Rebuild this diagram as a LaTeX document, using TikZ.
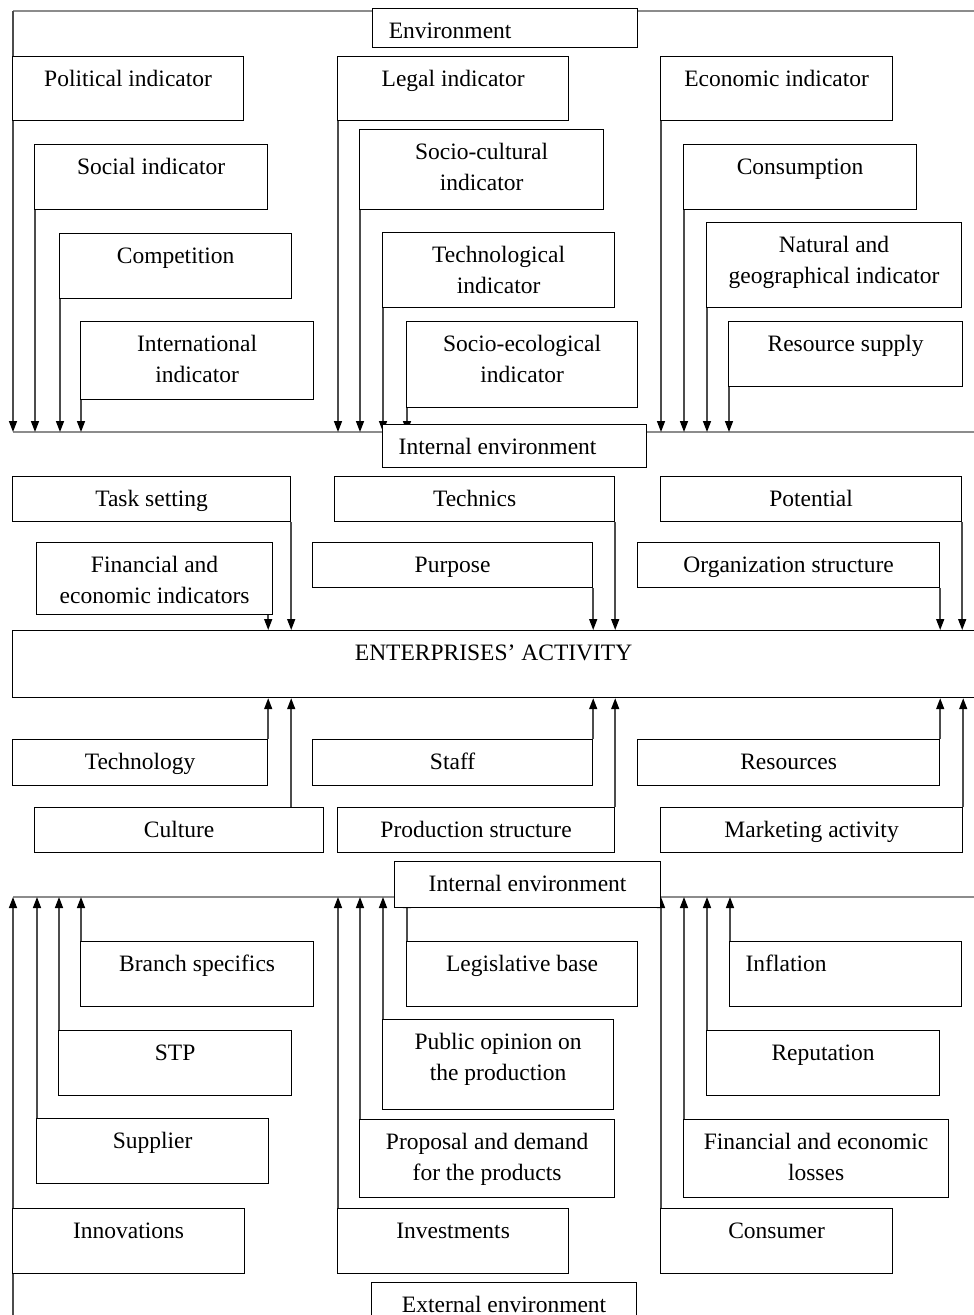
\documentclass[tikz,border=0pt]{standalone}
\usepackage{fontspec}
\setmainfont{Liberation Serif}
\usetikzlibrary{arrows.meta,backgrounds}

\begin{document}
\begin{tikzpicture}[x=1pt,y=-1pt,
    box/.style={draw=black,line width=1.2pt,fill=white,anchor=north west,inner sep=0pt,
      align=center,font=\fontsize{23.5}{31}\selectfont,text height=29.5pt},
    twoline/.style={text height=60.5pt},
    arr/.style={draw=black!70,line width=1.5pt,-{Triangle[length=11pt,width=8pt,color=black]}},
    frame/.style={draw=black!45,line width=2pt}]
            \useasboundingbox (0,0) rectangle (974,1315);

            % Environment
            \node[box,minimum width=265pt,text depth=9.5pt] (env) at (372,8) {Environment\hspace*{110pt}};

            % First column of indicators
            \node[box,minimum width=231pt,text depth=34.5pt] (pol) at (12,56) {Political indicator};
            \node[box,minimum width=233pt,text depth=35.5pt] (soc) at (34,144) {Social indicator};
            \node[box,minimum width=232pt,text depth=35.5pt] (comp) at (59,233) {Competition};
            \node[box,twoline,minimum width=233pt,text depth=17.5pt] (intl) at (80,321) {International\\indicator};

            % Second column of indicators
            \node[box,minimum width=231pt,text depth=34.5pt] (legal) at (337,56) {Legal indicator};
            \node[box,twoline,minimum width=244pt,text depth=19.5pt] (socc) at (359,129) {Socio-cultural\\indicator};
            \node[box,twoline,minimum width=232pt,text depth=14.5pt] (techi) at (382,232) {Technological\\indicator};
            \node[box,twoline,minimum width=231pt,text depth=25.5pt] (soce) at (406,321) {Socio-ecological\\indicator};

            % Third column of indicators
            \node[box,minimum width=232pt,text depth=34.5pt] (eco) at (660,56) {Economic indicator};
            \node[box,minimum width=233pt,text depth=35.5pt] (cons) at (683,144) {Consumption};
            \node[box,twoline,minimum width=255pt,text depth=24.5pt] (nat) at (706,222) {Natural and\\geographical indicator};
            \node[box,minimum width=234pt,text depth=35.5pt] (res) at (728,321) {Resource supply};

            % Internal environment
            \node[box,minimum width=264pt,text depth=13.5pt] (int1) at (382,424) {Internal environment\hspace*{34pt}};

            \node[box,minimum width=278pt,text depth=15.5pt] (task) at (12,476) {Task setting};
            \node[box,minimum width=280pt,text depth=15.5pt] (techn) at (334,476) {Technics};
            \node[box,minimum width=301pt,text depth=15.5pt] (pot) at (660,476) {Potential};
            \node[box,twoline,minimum width=236pt,text depth=11.5pt] (fin) at (36,542) {Financial and\\economic indicators};
            \node[box,minimum width=280pt,text depth=15.5pt] (purp) at (312,542) {Purpose};
            \node[box,minimum width=302pt,text depth=15.5pt] (org) at (637,542) {Organization structure};

            % Activity
            \node[box,minimum width=962pt,text depth=37.5pt] (act) at (12,630) {ENTERPRISES’ ACTIVITY};

            \node[box,minimum width=255pt,text depth=16.5pt] (tech) at (12,739) {Technology};
            \node[box,minimum width=280pt,text depth=16.5pt] (staff) at (312,739) {Staff};
            \node[box,minimum width=302pt,text depth=16.5pt] (resr) at (637,739) {Resources};
            \node[box,minimum width=289pt,text depth=15.5pt] (cult) at (34,807) {Culture};
            \node[box,minimum width=277pt,text depth=15.5pt] (prod) at (337,807) {Production structure};
            \node[box,minimum width=302pt,text depth=15.5pt] (mkt) at (660,807) {Marketing activity};

            % Second internal environment
            \node[box,minimum width=266pt,text depth=16.5pt] (int2) at (394,861) {Internal environment};

            % Lower factors
            \node[box,minimum width=233pt,text depth=35.5pt] (branch) at (80,941) {Branch specifics};
            \node[box,minimum width=233pt,text depth=35.5pt] (stp) at (58,1030) {STP};
            \node[box,minimum width=232pt,text depth=35.5pt] (sup) at (36,1118) {Supplier};
            \node[box,minimum width=232pt,text depth=35.5pt] (inn) at (12,1208) {Innovations};

            \node[box,minimum width=231pt,text depth=35.5pt] (legis) at (406,941) {Legislative base};
            \node[box,twoline,minimum width=231pt,text depth=29.5pt] (pub) at (382,1019) {Public opinion on\\the production};
            \node[box,twoline,minimum width=255pt,text depth=17.5pt] (prop) at (359,1119) {Proposal and demand\\for the products};
            \node[box,minimum width=231pt,text depth=35.5pt] (inv) at (337,1208) {Investments};

            \node[box,minimum width=232pt,text depth=35.5pt] (infl) at (729,941) {Inflation\hspace*{119pt}};
            \node[box,minimum width=233pt,text depth=35.5pt] (rep) at (706,1030) {Reputation};
            \node[box,twoline,minimum width=265pt,text depth=17.5pt] (finl) at (683,1119) {Financial and economic\\losses};
            \node[box,minimum width=232pt,text depth=35.5pt] (cons2) at (660,1208) {Consumer};

            % External environment
            \node[box,minimum width=265pt,text depth=15.5pt] (ext) at (371,1282) {External environment};

            \coordinate (tl) at (13,11);
            \coordinate (tr) at (974,11);
            \coordinate (l1a) at (13,432);
            \coordinate (l1b) at (974,432);
            \coordinate (l2a) at (13,897);
            \coordinate (l2b) at (974,897);
            \coordinate (bl) at (13,1315);

            \begin{pgfonlayer}{background}
            \draw[frame] (tl) -- (tr);
            \draw[frame] (l1a) -- (l1b);
            \draw[frame] (l2a) -- (l2b);

            % Arrows to the internal environment
            \draw[arr] (tl) -- (l1a);
            \foreach \n in {soc,comp,intl,legal,socc,techi,soce,eco,cons,nat,res}
                \draw[arr] ([xshift=1pt]\n.south west) -- ([xshift=1pt]\n.south west |- l1a);

            % Arrows to the activity
            \draw[arr] (task.south east) -- (task.south east |- act.north);
            \draw[arr] (tech.north east |- fin.south) -- (tech.north east |- act.north);
            \foreach \n in {purp,techn,org,pot}
                \draw[arr] (\n.south east) -- (\n.south east |- act.north);
            \draw[arr] (tech.north east) -- (tech.north east |- act.south);
            \draw[arr] (task.south east |- cult.north) -- (task.south east |- act.south);
            \foreach \n in {staff,prod,resr,mkt}
                \draw[arr] (\n.north east) -- (\n.north east |- act.south);

            % Arrows from the external factors
            \draw[arr] (bl) -- (l2a);
            \foreach \n in {sup,stp,branch,inv,prop,pub,legis,cons2,finl,rep,infl}
                \draw[arr] ([xshift=1pt]\n.north west) -- ([xshift=1pt]\n.north west |- l2a);
            \end{pgfonlayer}
        \end{tikzpicture}
\end{document}
